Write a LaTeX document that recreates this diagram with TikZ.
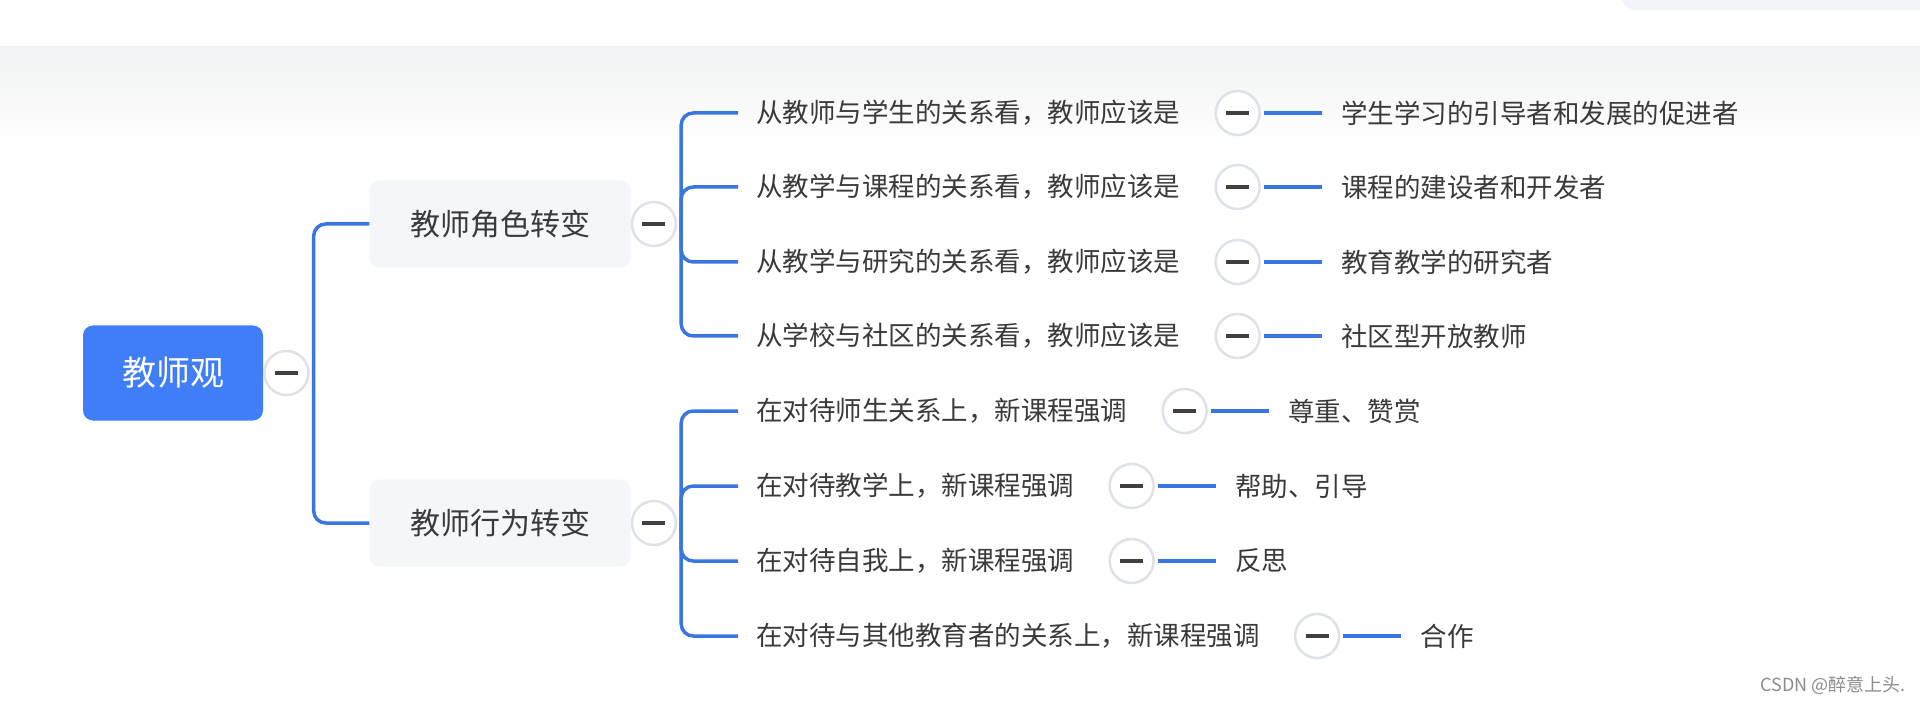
\documentclass[tikz,border=0pt]{standalone}
\usepackage{fontspec}
\setmainfont{Noto Sans CJK SC}
\usetikzlibrary{positioning}
\definecolor{mapblue}{HTML}{3F7EF6}
\definecolor{mapline}{HTML}{3A76E0}
\definecolor{topicfill}{HTML}{F4F6FA}
\definecolor{ringgray}{HTML}{DDE2E9}
\definecolor{dashgray}{HTML}{404040}
\definecolor{maptext}{HTML}{3A3A3A}
\definecolor{bandgray}{HTML}{F1F2F3}
\definecolor{tabfill}{HTML}{F1F3F8}
\definecolor{wmgray}{HTML}{8C8C8C}
\newcommand{\foldbar}{\rule[-1.75pt]{23pt}{3.5pt}}

\begin{document}
\begin{tikzpicture}[x=1pt, y=-1pt,
  rootbox/.style={fill=mapblue, rounded corners=10pt, text=white,
                  font=\fontsize{34pt}{38pt}\selectfont,
                  minimum width=180pt, minimum height=95pt, inner sep=0pt},
  topicbox/.style={fill=topicfill, rounded corners=10pt, text=maptext,
                   font=\fontsize{30pt}{34pt}\selectfont,
                   minimum width=261pt, minimum height=87pt, inner sep=0pt},
  subtext/.style={anchor=west, text=maptext, inner sep=0pt,
                  font=\fontsize{26.5pt}{30pt}\selectfont},
  leaftext/.style={text=maptext, inner sep=0pt,
                   font=\fontsize{26.5pt}{30pt}\selectfont},
  foldcirc/.style={circle, draw=ringgray, line width=2.5pt, fill=white,
                   minimum size=44pt, inner sep=0pt, text=dashgray},
  branchline/.style={draw=mapline, line width=3.5pt, rounded corners=12pt},
  leafline/.style={draw=mapline, line width=4pt, shorten <=3pt, shorten >=19pt},
  wmark/.style={text=wmgray, inner sep=0pt, font=\fontsize{18pt}{20pt}\selectfont},
  node distance=34pt
]
\useasboundingbox (0,0) rectangle (1920,703);
\fill[white] (0,0) rectangle (1920,703);
\shade[top color=bandgray, bottom color=white] (0,47) rectangle (1920,150);
\fill[tabfill, rounded corners=16pt] (1621,-40) rectangle (1960,10);

\node[rootbox] (root) at (173,373) {教师观};
\node[foldcirc, right=0pt of root] (rf) {\foldbar};
\node[topicbox] (t1) at (500,224) {教师角色转变};
\node[topicbox] (t2) at (500,523) {教师行为转变};
\node[foldcirc, right=0pt of t1] (tf1) {\foldbar};
\node[foldcirc, right=0pt of t2] (tf2) {\foldbar};
\foreach \t in {t1,t2} \draw[branchline] ([xshift=4pt]rf.east) |- (\t.west);

\foreach \i/\y/\q/\a in {
    1/113/从教师与学生的关系看，教师应该是/学生学习的引导者和发展的促进者,
    2/187/从教学与课程的关系看，教师应该是/课程的建设者和开发者,
    3/262/从教学与研究的关系看，教师应该是/教育教学的研究者,
    4/336/从学校与社区的关系看，教师应该是/社区型开放教师} {
  \node[subtext] (q\i) at (756,\y) {\q};
  \node[foldcirc, right=of q\i] (f\i) {\foldbar};
  \node[leaftext, right=80pt of f\i] (a\i) {\a};
  \draw[branchline, shorten >=18pt] ([xshift=4pt]tf1.east) |- (q\i.west);
  \draw[leafline] (f\i) -- (a\i);
}

\foreach \i/\y/\q/\a in {
    5/411/在对待师生关系上，新课程强调/尊重、赞赏,
    6/486/在对待教学上，新课程强调/帮助、引导,
    7/561/在对待自我上，新课程强调/反思,
    8/636/在对待与其他教育者的关系上，新课程强调/合作} {
  \node[subtext] (q\i) at (756,\y) {\q};
  \node[foldcirc, right=of q\i] (f\i) {\foldbar};
  \node[leaftext, right=80pt of f\i] (a\i) {\a};
  \draw[branchline, shorten >=18pt] ([xshift=4pt]tf2.east) |- (q\i.west);
  \draw[leafline] (f\i) -- (a\i);
}

\node[wmark, anchor=east] (csdn) at (1906,685) {CSDN @醉意上头.};
\end{tikzpicture}
\end{document}
